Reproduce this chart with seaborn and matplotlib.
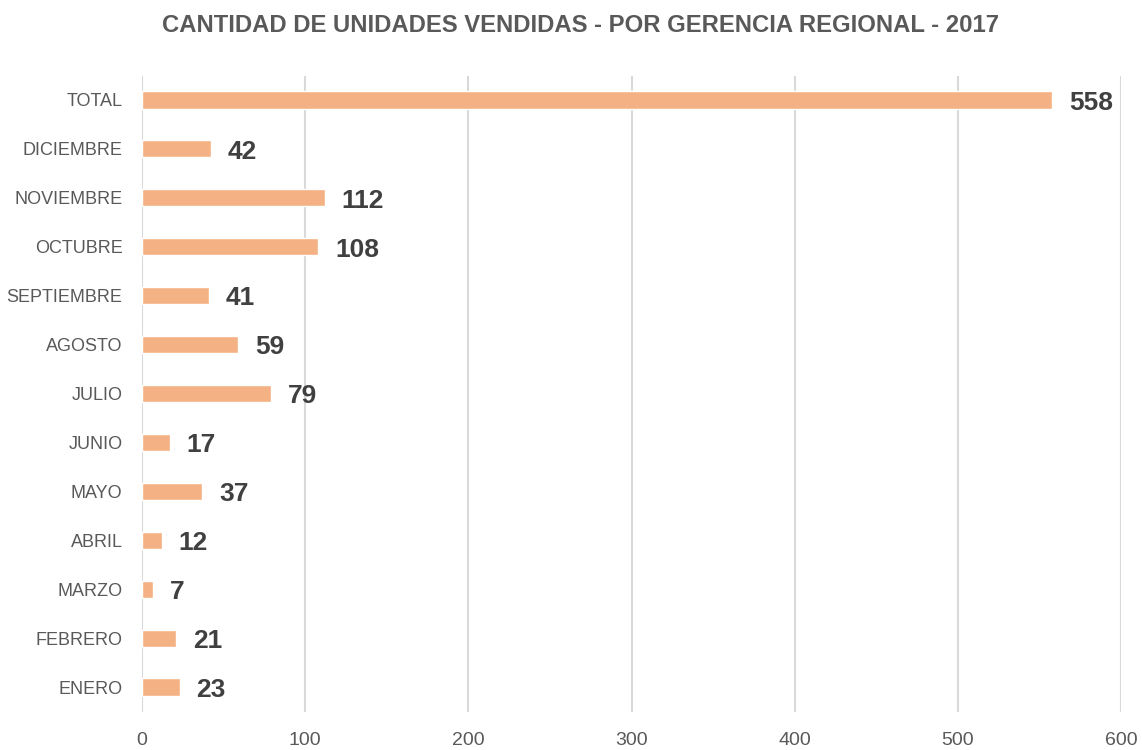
import matplotlib
matplotlib.use("Agg")
import matplotlib.pyplot as plt
import seaborn as sns
import pandas as pd

categories = ["TOTAL", "DICIEMBRE", "NOVIEMBRE", "OCTUBRE", "SEPTIEMBRE", "AGOSTO",
              "JULIO", "JUNIO", "MAYO", "ABRIL", "MARZO", "FEBRERO", "ENERO"]
values = [558, 42, 112, 108, 41, 59, 79, 17, 37, 12, 7, 21, 23]
x_ticks = [0, 100, 200, 300, 400, 500, 600]
title = "CANTIDAD DE UNIDADES VENDIDAS - POR GERENCIA REGIONAL - 2017"

sns.set_theme(style="white")
plt.rcParams['font.family'] = ['Liberation Sans', 'DejaVu Sans']

df = pd.DataFrame({"mes": categories, "unidades": values})

fig = plt.figure(figsize=(11.42, 7.5), dpi=100)
ax = fig.add_axes([142/1142, 1 - 711.5/750, (1121 - 142)/1142, (711.5 - 75.5)/750])

sns.barplot(data=df, y="mes", x="unidades", orient="h", color="#F4B183",
            saturation=1, width=0.35, ax=ax, zorder=3)

ax.set_xlim(0, 600)
ax.set_xticks(x_ticks)
ax.set_xticklabels([str(t) for t in x_ticks])
ax.set_xlabel("")
ax.set_ylabel("")
ax.xaxis.grid(True, color="#D9D9D9", linewidth=1.5, zorder=0)
ax.yaxis.grid(False)
for s in ax.spines.values():
    s.set_visible(False)
ax.tick_params(axis="y", length=0, pad=14, labelsize=13, labelcolor="#595959")
ax.tick_params(axis="x", length=0, pad=15, labelsize=14, labelcolor="#595959")

for i, v in enumerate(values):
    ax.annotate(str(v), xy=(v, i), xytext=(12, -2), textcoords="offset points",
                ha="left", va="center", fontsize=19, fontweight="bold", color="#404040")

fig.text(580/1142, 1 - 25/750, title, ha="center", va="center", fontsize=17.2,
         fontweight="bold", color="#595959")

fig.savefig("out.png", dpi=100)
